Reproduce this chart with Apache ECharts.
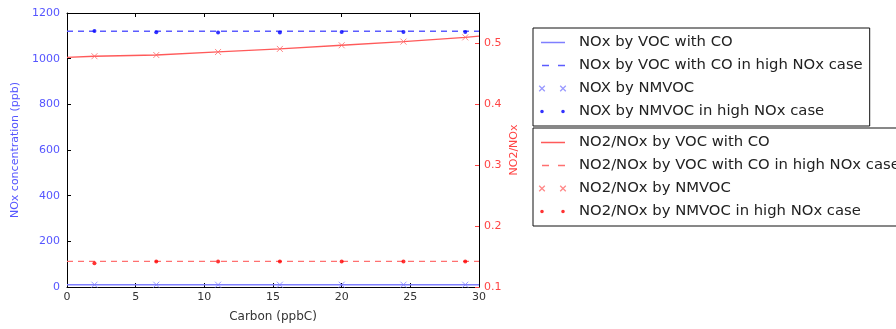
<!DOCTYPE html>
<html><head><meta charset="utf-8">
<script src="https://cdn.jsdelivr.net/npm/echarts@6/dist/echarts.min.js"></script>
<style>html,body{margin:0;padding:0;background:#fff}#c{width:896px;height:329px}</style>
</head><body><div id="c"></div>
<script>
// ---- data ----
var markerX = [2, 6.5, 11, 15.5, 20, 24.5, 29];
var lineX = [0, 2, 6.5, 11, 15.5, 20, 24.5, 29, 30];
var noxVocCo = [10, 10, 10, 10, 10, 10, 10, 10, 10];
var noxVocCoHigh = [1120, 1120, 1120, 1120, 1120, 1120, 1120, 1120, 1120];
var noxNmvoc = [10, 10, 10, 10, 10, 10, 10];
var noxNmvocHigh = [1121, 1116, 1115, 1115, 1117, 1117, 1117];
var ratioVocCo = [0.477, 0.479, 0.481, 0.486, 0.491, 0.497, 0.503, 0.510, 0.512];
var ratioVocCoHigh = [0.142, 0.142, 0.142, 0.142, 0.142, 0.142, 0.142, 0.142, 0.142];
var ratioNmvoc = [0.479, 0.481, 0.486, 0.491, 0.497, 0.503, 0.510];
var ratioNmvocHigh = [0.139, 0.142, 0.142, 0.142, 0.142, 0.142, 0.142];
var seriesNames = [
  'NOx by VOC with CO', 'NOx by VOC with CO in high NOx case', 'NOX by NMVOC', 'NOX by NMVOC in high NOx case',
  'NO2/NOx by VOC with CO', 'NO2/NOx by VOC with CO in high NOx case', 'NO2/NOx by NMVOC', 'NO2/NOx by NMVOC in high NOx case'
];
var xTicks = {min: 0, max: 30, interval: 5};
var yLeftTicks = {min: 0, max: 1200, interval: 200};
var yRightTicks = {min: 0.1, max: 0.55, interval: 0.1};

function pairs(xs, ys) { return xs.map(function (x, i) { return [x, ys[i]]; }); }

var BLUE_LINE = '#7f7fff', BLUE_DASH = '#5c5cff', BLUE_X = '#7f7fff', BLUE_DOT = '#0000ff';
var RED_LINE = '#ff5a5a', RED_DASH = '#ff7070', RED_X = '#ff6a6a', RED_DOT = '#ff0000';
var FONT = 'DejaVu Sans';

// legend icons (box 36x14, corner specks keep the bounding box)
var corners = 'M0,0h0.01v0.01h-0.01z M36,14h-0.01v-0.01h0.01z ';
var iconSolid = 'path://' + corners + 'M3,6.25h24v1.5h-24z';
var iconDash = 'path://' + corners + 'M4,6.25h7v1.5h-7z M20,6.25h7v1.5h-7z';
var xShape = function (cx) {
  var d = 2.8, w = 0.45;
  return 'M' + (cx - d - w) + ',' + (7 - d + w) + 'L' + (cx - d + w) + ',' + (7 - d - w) + 'L' + (cx + d + w) + ',' + (7 + d - w) + 'L' + (cx + d - w) + ',' + (7 + d + w) + 'z ' +
    'M' + (cx + d - w) + ',' + (7 - d - w) + 'L' + (cx + d + w) + ',' + (7 - d + w) + 'L' + (cx - d + w) + ',' + (7 + d + w) + 'L' + (cx - d - w) + ',' + (7 + d - w) + 'z ';
};
var iconX = 'path://' + corners + xShape(4) + xShape(25);
var dot = function (cx) { var r = 1.8; return 'M' + (cx - r) + ',7a' + r + ',' + r + ' 0 1,0 ' + (2 * r) + ',0a' + r + ',' + r + ' 0 1,0 ' + (-2 * r) + ',0z '; };
var iconDot = 'path://' + corners + dot(4) + dot(25);

var xMarkerSymbol = 'path://M0,0L10,10M10,0L0,10';

var chart = echarts.init(document.getElementById('c'));
var legendCommon = {
  orient: 'vertical', left: 533, itemWidth: 36, itemHeight: 14, itemGap: 8,
  padding: [7, 7, 7, 5], borderColor: '#111', borderWidth: 1, backgroundColor: '#fff',
  textStyle: {fontFamily: FONT, fontSize: 14.8, color: '#222', lineHeight: 15},
  selectedMode: false
};
var icons = [iconSolid, iconDash, iconX, iconDot];
var cols1 = [BLUE_LINE, BLUE_DASH, BLUE_X, BLUE_DOT];
var cols2 = [RED_LINE, RED_DASH, RED_X, RED_DOT];

var axisBlack = {show: true, onZero: false, lineStyle: {color: '#000', width: 1}};
chart.setOption({
  animation: false,
  textStyle: {fontFamily: FONT},
  grid: {left: 67, right: 417, top: 13, bottom: 42, containLabel: false},
  legend: [
    Object.assign({}, legendCommon, {top: 28, data: seriesNames.slice(0, 4).map(function (n, i) {
      return {name: n, icon: icons[i], itemStyle: {color: cols1[i], borderWidth: 0}};
    })}),
    Object.assign({}, legendCommon, {top: 128, data: seriesNames.slice(4).map(function (n, i) {
      return {name: n, icon: icons[i], itemStyle: {color: cols2[i], borderWidth: 0}};
    })})
  ],
  xAxis: [
    {type: 'value', position: 'bottom', min: xTicks.min, max: xTicks.max, interval: xTicks.interval,
      name: 'Carbon (ppbC)', nameLocation: 'middle', nameGap: 24,
      nameTextStyle: {fontSize: 12, color: '#333', fontFamily: FONT},
      axisLine: axisBlack, axisTick: {inside: true, length: 4, lineStyle: {color: '#000'}},
      axisLabel: {fontSize: 11, color: '#333', margin: 5, fontFamily: FONT}, splitLine: {show: false}},
    {type: 'value', position: 'top', min: xTicks.min, max: xTicks.max, interval: xTicks.interval,
      axisLine: axisBlack, axisTick: {inside: true, length: 4, lineStyle: {color: '#000'}},
      axisLabel: {show: false}, splitLine: {show: false}}
  ],
  yAxis: [
    {type: 'value', position: 'left', min: yLeftTicks.min, max: yLeftTicks.max, interval: yLeftTicks.interval,
      name: 'NOx concentration (ppb)', nameLocation: 'middle', nameGap: 46, nameRotate: 90,
      nameTextStyle: {fontSize: 11, color: '#5555ff', fontFamily: FONT},
      axisLine: axisBlack, axisTick: {inside: true, length: 4, lineStyle: {color: '#000'}},
      axisLabel: {fontSize: 11, color: '#5555ff', margin: 7, fontFamily: FONT,
        formatter: function (v) { return String(v); }},
      splitLine: {show: false}},
    {type: 'value', position: 'right', min: yRightTicks.min, max: yRightTicks.max, interval: yRightTicks.interval,
      name: 'NO2/NOx', nameLocation: 'middle', nameGap: 30, nameRotate: 90,
      nameTextStyle: {fontSize: 11, color: '#ff4444', fontFamily: FONT},
      axisLine: axisBlack, axisTick: {inside: true, length: 4, lineStyle: {color: '#ff4444'}},
      axisLabel: {fontSize: 11, color: '#ff4444', margin: 5, fontFamily: FONT, showMaxLabel: false,
        formatter: function (v) { return (Math.round(v * 10) / 10).toString(); }},
      splitLine: {show: false}}
  ],
  series: [
    {name: seriesNames[0], type: 'line', yAxisIndex: 0, data: pairs(lineX, noxVocCo), symbol: 'none', color: BLUE_LINE,
      lineStyle: {color: BLUE_LINE, width: 1.5}, z: 2},
    {name: seriesNames[1], type: 'line', yAxisIndex: 0, data: pairs(lineX, noxVocCoHigh), symbol: 'none', color: BLUE_DASH,
      lineStyle: {color: BLUE_DASH, width: 1.3, type: [6, 5]}, z: 2},
    {name: seriesNames[2], type: 'scatter', yAxisIndex: 0, data: pairs(markerX, noxNmvoc), symbol: xMarkerSymbol, symbolSize: 6,
      color: BLUE_X, itemStyle: {color: 'none', borderColor: BLUE_X, borderWidth: 1}, z: 3},
    {name: seriesNames[3], type: 'scatter', yAxisIndex: 0, data: pairs(markerX, noxNmvocHigh), symbol: 'circle', symbolSize: 4,
      color: BLUE_DOT, itemStyle: {color: BLUE_DOT}, z: 3},
    {name: seriesNames[4], type: 'line', yAxisIndex: 1, data: pairs(lineX, ratioVocCo), symbol: 'none', color: RED_LINE,
      lineStyle: {color: RED_LINE, width: 1.3}, z: 2},
    {name: seriesNames[5], type: 'line', yAxisIndex: 1, data: pairs(lineX, ratioVocCoHigh), symbol: 'none', color: RED_DASH,
      lineStyle: {color: RED_DASH, width: 1.3, type: [6, 5]}, z: 2},
    {name: seriesNames[6], type: 'scatter', yAxisIndex: 1, data: pairs(markerX, ratioNmvoc), symbol: xMarkerSymbol, symbolSize: 6,
      color: RED_X, itemStyle: {color: 'none', borderColor: RED_X, borderWidth: 1}, z: 3},
    {name: seriesNames[7], type: 'scatter', yAxisIndex: 1, data: pairs(markerX, ratioNmvocHigh), symbol: 'circle', symbolSize: 4,
      color: RED_DOT, itemStyle: {color: RED_DOT}, z: 3}
  ]
});
</script></body></html>
